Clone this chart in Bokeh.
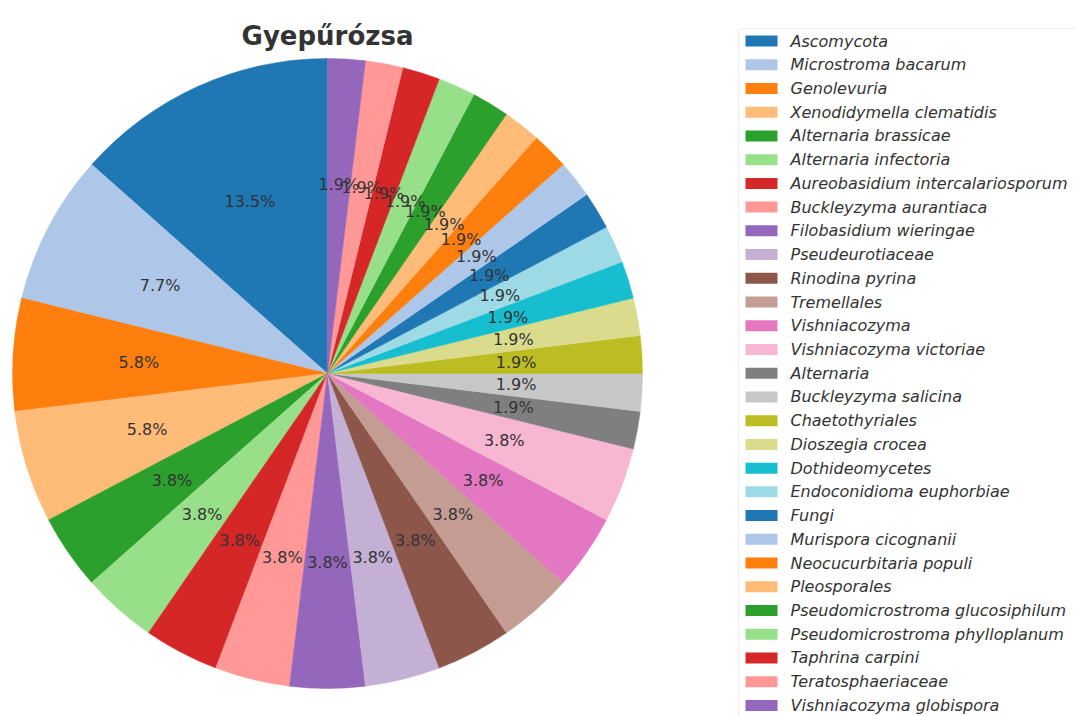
import math
from bokeh.plotting import figure
from bokeh.models import ColumnDataSource, Range1d, BoxAnnotation
from bokeh.core.properties import value
from bokeh.embed import file_html
from bokeh.resources import INLINE

title = "Gyepűrózsa"
categories = [
    "Ascomycota", "Microstroma bacarum", "Genolevuria", "Xenodidymella clematidis",
    "Alternaria brassicae", "Alternaria infectoria", "Aureobasidium intercalariosporum",
    "Buckleyzyma aurantiaca", "Filobasidium wieringae", "Pseudeurotiaceae",
    "Rinodina pyrina", "Tremellales", "Vishniacozyma", "Vishniacozyma victoriae",
    "Alternaria", "Buckleyzyma salicina", "Chaetothyriales", "Dioszegia crocea",
    "Dothideomycetes", "Endoconidioma euphorbiae", "Fungi", "Murispora cicognanii",
    "Neocucurbitaria populi", "Pleosporales", "Pseudomicrostroma glucosiphilum",
    "Pseudomicrostroma phylloplanum", "Taphrina carpini", "Teratosphaeriaceae",
    "Vishniacozyma globispora",
]
counts = [7, 4, 3, 3, 2, 2, 2, 2, 2, 2, 2, 2, 2, 2,
          1, 1, 1, 1, 1, 1, 1, 1, 1, 1, 1, 1, 1, 1, 1]

tab20 = ["#1f77b4", "#aec7e8", "#ff7f0e", "#ffbb78", "#2ca02c", "#98df8a",
         "#d62728", "#ff9896", "#9467bd", "#c5b0d5", "#8c564b", "#c49c94",
         "#e377c2", "#f7b6d2", "#7f7f7f", "#c7c7c7", "#bcbd22", "#dbdb8d",
         "#17becf", "#9edae5"]

W, H = 1075, 716
cx, cy, R = 327, 716 - 373, 315
FONT = "DejaVu Sans"
TXT = "#333333"

total = sum(counts)
starts, ends, colors, lx, ly, pct = [], [], [], [], [], []
acc = 0.0
for i, c in enumerate(counts):
    a0 = math.pi / 2 + 2 * math.pi * acc / total
    acc += c
    a1 = math.pi / 2 + 2 * math.pi * acc / total
    starts.append(a0)
    ends.append(a1)
    colors.append(tab20[i % len(tab20)])
    mid = (a0 + a1) / 2
    lx.append(cx + 0.6 * R * math.cos(mid))
    ly.append(cy + 0.6 * R * math.sin(mid))
    pct.append("%1.1f%%" % (100.0 * c / total))

src = ColumnDataSource(dict(start=starts, end=ends, color=colors,
                            lx=lx, ly=ly, pct=pct, cat=categories))

p = figure(width=W, height=H, output_backend="svg", toolbar_location=None,
           x_range=Range1d(0, W), y_range=Range1d(0, H),
           x_axis_location=None, y_axis_location=None, min_border=0)
p.grid.visible = False
p.outline_line_color = None
p.background_fill_color = "white"
p.border_fill_color = "white"

p.wedge(x=cx, y=cy, radius=R, start_angle="start", end_angle="end",
        direction="anticlock", fill_color="color", line_color="color",
        line_width=0.5, source=src)

p.text(x="lx", y="ly", text="pct", source=src, text_align="center",
       text_baseline="middle", text_font=value(FONT),
       text_font_size="16px", text_color=TXT)

# title
p.text(x=[cx], y=[H - 35], text=[title], text_align="center",
       text_baseline="alphabetic", text_font=value(FONT),
       text_font_size="26px", text_font_style="bold", text_color=TXT)

# legend
box = BoxAnnotation(left=738, right=W + 50, top=H - 28, bottom=-20,
                    fill_color="white", fill_alpha=1.0,
                    line_color="#cccccc", line_width=1, border_radius=4,
                    level="underlay")
p.add_layout(box)

pitch = 23.73
row0 = H - 40.5
leg_y = [row0 - i * pitch for i in range(len(categories))]
leg_src = ColumnDataSource(dict(y=leg_y, color=colors, cat=categories))
p.rect(x=761, y="y", width=32, height=11, fill_color="color",
       line_color=None, source=leg_src)
p.text(x=790, y="y", text="cat", source=leg_src, text_align="left",
       text_baseline="middle", text_font=value(FONT), text_font_size="16px",
       text_font_style="italic", text_color=TXT)

open("out.html", "w").write(file_html(p, INLINE))
